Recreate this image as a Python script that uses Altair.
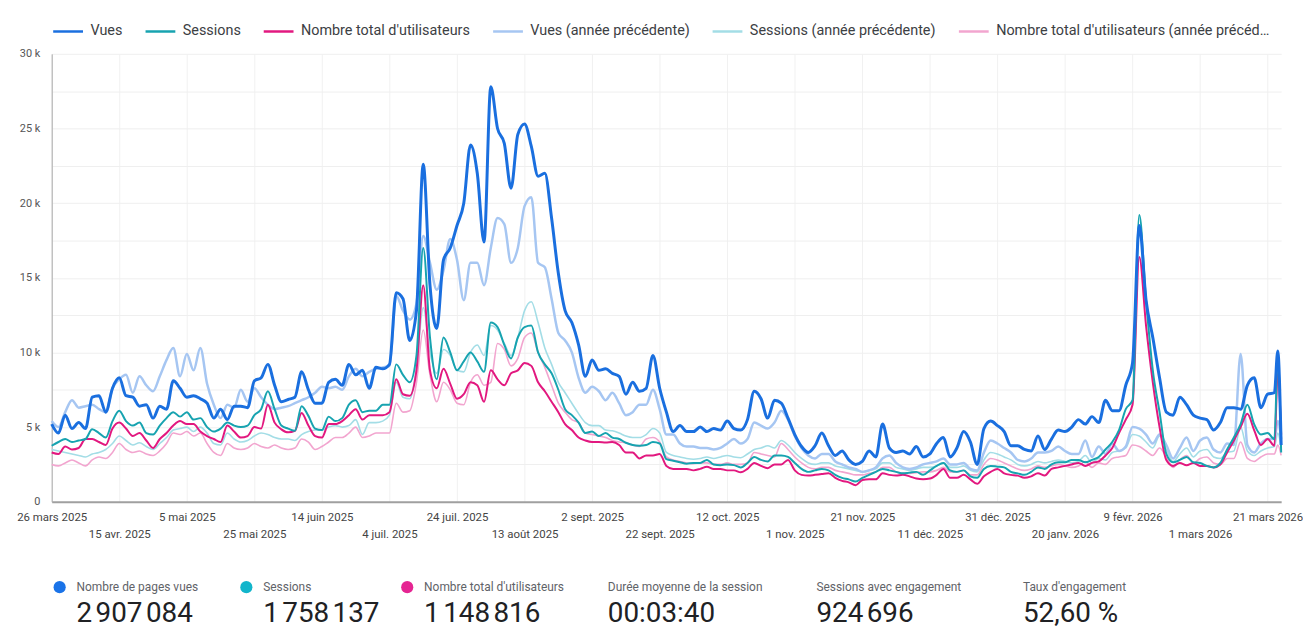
import json
import altair as alt
import pandas as pd

# ---------------- data (values in thousands) ----------------
# day index since 26 mars 2025 (every second day, plus the last two days)
DAYS = list(range(0, 363, 2)) + [363, 364]

VUES = [
    5.2, 4.6, 5.8, 4.9, 5.3, 4.9, 7.0, 7.1, 6.0, 7.6,
    8.3, 7.1, 7.0, 6.4, 6.5, 5.6, 6.4, 6.2, 8.1, 7.6,
    7.0, 7.1, 6.9, 6.6, 5.6, 6.2, 5.5, 6.4, 6.4, 6.3,
    8.1, 8.3, 9.2, 7.8, 6.7, 6.85, 7.0, 8.7, 7.5, 6.6,
    6.6, 8.0, 8.2, 7.8, 9.2, 8.5, 8.8, 7.6, 9.0, 8.9,
    9.2, 14.0, 13.6, 10.8, 12.8, 22.6, 14.5, 11.6, 16.2, 17.0,
    18.5, 20.0, 23.9, 22.0, 17.4, 27.8, 25.0, 24.0, 21.0, 24.6,
    25.3, 23.8, 21.8, 22.0, 19.0, 15.3, 12.8, 12.0, 10.5, 8.4,
    9.5, 8.8, 8.9, 8.6, 8.4, 7.2, 8.0, 7.4, 7.6, 9.8,
    7.6, 6.0, 4.7, 5.1, 4.7, 4.7, 5.0, 4.7, 4.9, 4.8,
    5.4, 4.9, 4.8, 5.5, 7.4, 6.9, 5.6, 6.8, 6.6, 5.6,
    4.5, 3.7, 3.3, 3.75, 4.6, 3.75, 3.1, 3.4, 2.8, 2.5,
    2.7, 3.4, 3.0, 5.2, 3.6, 3.3, 3.4, 3.2, 3.7, 3.0,
    3.2, 3.9, 4.3, 3.0, 3.6, 4.7, 4.0, 2.5, 4.9, 5.4,
    5.1, 4.7, 3.75, 3.75, 3.5, 3.4, 4.4, 3.5, 4.2, 4.8,
    4.7, 5.0, 5.5, 5.2, 5.7, 5.3, 6.8, 6.1, 6.1, 7.8,
    9.3, 18.5, 13.5, 11.0, 8.3, 6.0, 5.8, 7.0, 6.5, 5.8,
    5.6, 5.5, 4.8, 5.3, 6.3, 6.3, 6.2, 7.8, 8.3, 6.3,
    7.2, 7.3, 10.1, 3.8,
]

SESSIONS = [
    3.75, 4.0, 4.2, 4.0, 4.1, 4.2, 4.85, 4.6, 4.3, 5.4,
    6.1, 5.4, 5.1, 5.3, 4.6, 4.5, 5.1, 5.6, 6.0, 5.7,
    6.0, 5.5, 5.6, 5.0, 4.7, 4.9, 5.3, 5.1, 5.0, 5.1,
    5.8, 6.2, 7.4, 6.2, 5.1, 4.9, 4.75, 6.4, 5.75, 4.9,
    4.8, 5.7, 5.4, 5.6, 6.5, 6.8, 6.0, 6.1, 6.1, 6.5,
    6.5, 9.2, 8.5, 8.0, 9.8, 17.0, 11.0, 8.2, 11.0, 10.0,
    8.8, 9.4, 10.0, 9.4, 8.7, 12.0, 11.7, 10.5, 9.6, 11.0,
    11.7, 11.8, 10.0, 9.2, 8.6, 7.5, 6.2, 5.8, 5.3, 4.6,
    4.7, 4.4, 4.6, 4.3, 4.2, 3.95, 3.8, 3.75, 3.8, 4.0,
    3.9, 2.85, 2.75, 2.65, 2.55, 2.6, 2.6, 2.8, 2.5, 2.45,
    2.5, 2.45, 2.3, 2.6, 3.0, 2.8, 2.7, 3.1, 3.1, 3.0,
    2.6, 2.2, 2.0, 2.1, 2.2, 2.1, 1.8, 1.6, 1.5, 1.35,
    1.6, 1.8, 2.0, 2.2, 2.1, 2.0, 1.9, 1.95, 2.0, 1.8,
    2.1, 2.4, 2.6, 2.1, 2.0, 2.1, 1.7, 1.6, 2.2, 2.4,
    2.35, 2.3, 2.0, 1.9, 1.8, 2.0, 2.3, 2.2, 2.5, 2.64,
    2.64, 2.8, 2.8, 2.64, 2.8, 3.0, 3.5, 4.0, 4.8, 6.2,
    6.8, 19.2, 13.5, 8.8, 6.0, 3.2, 2.64, 2.8, 3.0, 2.64,
    2.6, 2.4, 2.3, 2.6, 3.5, 4.3, 5.2, 6.5, 5.2, 4.5,
    4.6, 4.2, 9.8, 3.3,
]

USERS = [
    3.3, 3.2, 3.7, 3.5, 3.6, 4.2, 4.2, 4.0, 3.8, 4.9,
    5.3, 4.9, 4.4, 4.6, 4.1, 3.6, 4.2, 4.6, 5.1, 5.4,
    5.2, 5.2, 4.7, 4.4, 4.2, 4.0, 5.1, 4.7, 4.3, 4.4,
    5.0, 4.9, 6.5, 5.3, 4.85, 4.65, 4.75, 5.95, 5.1, 4.4,
    4.3, 5.2, 5.2, 5.4, 5.8, 6.2, 5.5, 5.8, 5.8, 5.8,
    6.0, 8.2, 7.2, 7.1, 8.8, 14.5, 8.8, 7.6, 8.9, 7.9,
    6.9, 7.2, 8.0, 7.8, 6.7, 8.8, 8.2, 7.8, 8.6, 8.8,
    9.3, 9.1, 8.0, 7.4, 6.7, 6.0, 5.2, 4.8, 4.3, 4.1,
    4.0, 4.0, 3.97, 4.0, 3.8, 3.3, 3.3, 2.9, 3.1, 3.1,
    3.2, 2.4, 2.2, 2.2, 2.2, 2.1, 2.2, 2.35, 2.2, 2.2,
    2.1, 2.1, 1.97, 2.2, 2.6, 2.4, 2.25, 2.5, 2.5, 2.8,
    2.1, 1.8, 1.75, 1.8, 1.85, 1.9, 1.6, 1.4, 1.3, 1.1,
    1.45, 1.5, 1.5, 1.9, 1.8, 1.75, 1.8, 1.7, 1.55, 1.5,
    1.55, 1.8, 2.2, 1.6, 1.6, 1.8, 1.5, 1.2, 1.7, 2.0,
    2.2, 1.9, 1.8, 1.75, 1.6, 1.7, 1.9, 1.75, 2.2, 2.3,
    2.4, 2.5, 2.6, 2.4, 2.6, 2.7, 3.1, 3.6, 4.6, 5.5,
    6.5, 16.4, 11.8, 8.0, 5.0, 2.8, 2.4, 2.6, 2.45, 2.6,
    2.4, 2.4, 2.3, 2.5, 3.3, 4.1, 5.0, 5.9, 4.8, 3.8,
    4.2, 3.75, 8.6, 4.5,
]

VUES_PREV = [
    5.4, 5.0, 6.0, 6.8, 6.3, 6.4, 6.5, 6.2, 6.0, 7.6,
    8.2, 8.5, 7.3, 8.4, 7.8, 7.4, 8.4, 9.5, 10.3, 8.4,
    9.9, 8.8, 10.3, 7.9, 6.5, 5.6, 6.5, 6.3, 7.5, 6.7,
    7.6, 7.0, 6.5, 6.2, 6.3, 6.4, 6.6, 6.8, 7.0, 7.3,
    7.7, 7.6, 7.7, 7.5, 8.4, 8.9, 8.4, 8.7, 8.9, 9.0,
    9.1, 13.8, 12.8, 12.2, 13.3, 17.8, 16.0, 14.2, 15.5, 17.6,
    16.2, 13.5, 16.0, 16.0, 14.5, 17.0, 19.0, 18.6, 16.0, 17.0,
    19.8, 20.4, 16.0, 15.7, 13.6, 11.3, 10.8, 10.0, 8.3, 7.3,
    7.7, 7.4, 6.8, 7.3, 6.6, 5.8, 6.0, 6.5, 6.5, 7.5,
    6.2, 4.5, 4.5, 3.9, 3.7, 3.7, 3.6, 3.6, 3.5, 3.6,
    3.9, 4.2, 3.9, 4.2, 5.3, 5.1, 4.9, 5.3, 6.1, 5.5,
    4.4, 3.6, 3.1, 2.9, 3.2, 3.2, 2.7, 2.5, 2.3, 2.2,
    2.0, 2.1, 2.3, 2.9, 3.1, 2.6, 2.3, 2.2, 2.3, 2.5,
    2.6, 2.7, 2.9, 2.5, 2.5, 2.6, 2.2, 2.1, 3.3, 4.1,
    3.9, 3.6, 3.3, 2.8, 2.7, 2.9, 3.3, 3.3, 3.4, 3.7,
    3.4, 3.2, 3.2, 4.1, 3.0, 3.7, 3.2, 3.9, 3.4, 3.7,
    5.0, 4.9, 4.5, 3.9, 4.5, 3.8, 2.9, 3.6, 4.3, 3.4,
    4.1, 4.3, 3.5, 3.3, 3.9, 3.8, 9.9, 3.8, 3.3, 3.9,
    4.2, 4.2, 5.4, 4.2,
]

SESSIONS_PREV = [
    3.5, 3.4, 3.3, 3.2, 3.1, 3.0, 3.2, 3.3, 3.5, 3.9,
    4.4, 4.1, 3.8, 3.95, 3.7, 3.5, 3.9, 4.3, 4.8, 4.9,
    5.0, 4.7, 5.0, 4.6, 3.9, 3.8, 4.6, 4.2, 4.0, 4.1,
    4.4, 4.6, 4.5, 4.3, 4.2, 4.2, 4.1, 4.5, 4.7, 4.8,
    4.8, 5.0, 5.1, 5.0, 5.1, 5.5, 4.5, 5.3, 5.3, 5.4,
    5.8, 8.0, 7.0, 6.9, 9.0, 13.0, 10.0, 8.6, 10.2, 9.8,
    8.8, 8.7, 10.0, 10.5, 9.8, 11.8, 11.5, 10.6, 9.8, 11.0,
    12.8, 13.4, 12.0, 10.3, 9.2, 8.0, 7.3, 6.6, 5.9, 5.3,
    5.1, 5.1, 4.8, 4.75, 4.6, 4.4, 4.3, 4.3, 4.5, 4.9,
    4.6, 3.3, 3.1, 3.0, 2.9, 2.85, 2.9, 3.0, 2.9, 3.0,
    3.1, 3.0, 2.95, 3.2, 3.5, 3.6, 3.75, 3.6, 4.1, 3.8,
    3.3, 2.9, 2.6, 2.5, 2.6, 2.6, 2.4, 2.3, 2.2, 2.1,
    2.0, 2.1, 2.2, 2.6, 2.6, 2.3, 2.2, 2.1, 2.2, 2.3,
    2.3, 2.4, 2.6, 2.3, 2.3, 2.4, 2.1, 2.0, 2.8, 3.3,
    3.2, 3.0, 2.8, 2.5, 2.4, 2.5, 2.7, 2.6, 2.7, 2.8,
    2.7, 2.6, 2.7, 3.1, 2.6, 2.9, 2.8, 3.3, 3.4, 3.6,
    4.5, 4.4, 4.0, 3.6, 4.4, 3.5, 2.7, 3.2, 3.6, 3.0,
    3.4, 3.5, 3.0, 2.9, 3.3, 3.4, 5.0, 3.4, 3.1, 3.4,
    3.6, 3.7, 4.6, 3.6,
]

USERS_PREV = [
    2.5, 2.4, 2.6, 2.8, 2.6, 2.4, 2.8, 3.0, 2.9, 3.3,
    3.9, 3.5, 3.3, 3.4, 3.2, 3.1, 3.4, 3.9, 4.6, 4.5,
    4.7, 4.4, 4.6, 3.9, 3.3, 3.1, 3.9, 3.6, 3.5, 3.6,
    3.9, 3.7, 3.6, 3.8, 3.6, 3.5, 3.6, 4.2, 4.0, 3.5,
    3.7, 4.0, 4.3, 4.3, 4.6, 5.0, 4.3, 4.4, 4.6, 4.6,
    4.6, 6.6, 6.0, 6.1, 8.0, 11.5, 8.5, 6.7, 8.0, 7.5,
    6.6, 6.5, 8.0, 8.5, 7.8, 8.0, 10.6, 10.2, 9.1, 9.6,
    11.0, 11.3, 10.0, 9.0, 7.8, 6.6, 6.0, 5.5, 5.3, 4.6,
    4.5, 4.4, 4.3, 4.1, 4.0, 3.95, 3.8, 3.7, 4.2, 4.3,
    4.0, 3.0, 2.8, 2.7, 2.6, 2.55, 2.6, 2.6, 2.5, 2.5,
    2.6, 2.5, 2.5, 2.6, 3.3, 3.2, 3.1, 3.0, 3.9, 3.5,
    3.0, 2.6, 2.3, 2.2, 2.3, 2.3, 2.1, 2.0, 1.9, 1.8,
    1.8, 1.9, 2.0, 2.3, 2.3, 2.0, 1.9, 1.9, 1.95, 2.0,
    2.0, 2.1, 2.3, 2.0, 2.0, 2.1, 1.8, 1.8, 2.5, 2.9,
    2.8, 2.6, 2.4, 2.2, 2.1, 2.2, 2.4, 2.3, 2.4, 2.5,
    2.4, 2.3, 2.4, 2.7, 2.3, 2.6, 2.5, 2.9, 3.0, 3.1,
    3.8, 3.7, 3.4, 3.1, 3.6, 3.0, 2.3, 2.8, 3.1, 2.6,
    2.9, 3.0, 2.6, 2.5, 2.9, 2.9, 4.0, 2.9, 2.7, 3.0,
    3.2, 3.2, 3.8, 3.1,
]

SERIES = [
    "Vues",
    "Sessions",
    "Nombre total d'utilisateurs",
    "Vues (année précédente)",
    "Sessions (année précédente)",
    "Nombre total d'utilisateurs (année précédente)",
]
SERIES_VALUES = [VUES, SESSIONS, USERS, VUES_PREV, SESSIONS_PREV, USERS_PREV]

TICK_DAYS = list(range(0, 361, 20))
TICK_LABELS = [
    "26 mars 2025", "15 avr. 2025", "5 mai 2025", "25 mai 2025", "14 juin 2025",
    "4 juil. 2025", "24 juil. 2025", "13 août 2025", "2 sept. 2025", "22 sept. 2025",
    "12 oct. 2025", "1 nov. 2025", "21 nov. 2025", "11 déc. 2025", "31 déc. 2025",
    "20 janv. 2026", "9 févr. 2026", "1 mars 2026", "21 mars 2026",
]
Y_TICKS = [0, 2.5, 5, 7.5, 10, 12.5, 15, 17.5, 20, 22.5, 25, 27.5, 30]

CARD_LABELS = [
    "Nombre de pages vues", "Sessions", "Nombre total d'utilisateurs",
    "Durée moyenne de la session", "Sessions avec engagement", "Taux d'engagement",
]
CARD_VALUES = [
    "2\u202f907\u202f084", "1\u202f758\u202f137", "1\u202f148\u202f816",
    "00:03:40", "924\u202f696", "52,60\u00a0%",
]

# ---------------- styles / layout ----------------
COLORS = ["#1a6fdf", "#17a3b0", "#e2187f", "#a6c6f2", "#a3dde6", "#f2a5cf"]
WIDTHS = [3, 2, 2, 2.5, 1.6, 1.6]
DRAW_ORDER = [5, 4, 3, 2, 1, 0]
DOT_COLORS = ["#1a73e8", "#12b5cb", "#e52592"]
CARD_X = [25, 213, 375, 560, 770, 978]  # layout offsets of the score cards
FONT = "Roboto"

frames = []
for name, vals in zip(SERIES, SERIES_VALUES):
    frames.append(pd.DataFrame({"day": DAYS, "value": vals, "series": name}))
df = pd.concat(frames, ignore_index=True)

L = json.dumps(TICK_LABELS, ensure_ascii=False)
IDX = "round(datum.value / 20)"
x_label_expr = "(" + IDX + " % 2 === 1) ? ['', " + L + "[" + IDX + "]] : " + L + "[" + IDX + "]"
y_label_expr = "datum.value % 5 === 0 ? (datum.value === 0 ? '0' : datum.value + ' k') : ''"

x_enc = alt.X(
    "day:Q",
    scale=alt.Scale(domain=[0, 364], nice=False, zero=False),
    axis=alt.Axis(
        values=TICK_DAYS, labelExpr=x_label_expr, title=None, ticks=False,
        labelOverlap=False, labelFlush=False, labelAngle=0,
        labelFont=FONT, labelFontSize=11.5, labelColor="#444444",
        labelLineHeight=17, labelPadding=10, labelBaseline="top",
        domainColor="#a0a0a0", domainWidth=2,
        gridColor="#f1f1f1", gridWidth=1,
    ),
)

y_enc = alt.Y(
    "value:Q",
    scale=alt.Scale(domain=[0, 30], nice=False),
    axis=alt.Axis(
        values=Y_TICKS, labelExpr=y_label_expr, title=None, ticks=False,
        labelFont=FONT, labelFontSize=11, labelColor="#555555", labelPadding=12,
        domainColor="#a8a8a8", domainWidth=1,
        gridColor="#efefef", gridWidth=1,
    ),
)

color_enc = alt.Color(
    "series:N",
    scale=alt.Scale(domain=SERIES, range=COLORS),
    legend=alt.Legend(
        orient="none", legendX=0, legendY=-39, direction="horizontal",
        title=None, symbolType="stroke", symbolSize=900, symbolStrokeWidth=2.5,
        labelFont=FONT, labelFontSize=14.5, labelColor="#3c4043",
        labelLimit=279, labelOffset=6, columnPadding=17,
    ),
)

layers = []
for i in DRAW_ORDER:
    layers.append(
        alt.Chart(df)
        .transform_filter(alt.datum.series == SERIES[i])
        .mark_line(strokeWidth=WIDTHS[i], interpolate="monotone")
        .encode(x=x_enc, y=y_enc, color=color_enc)
    )

main = alt.layer(*layers).properties(width=1238, height=451)

cards_df = pd.DataFrame({"label": CARD_LABELS, "value": CARD_VALUES, "cx": CARD_X})
dots_df = pd.DataFrame({"dx": [c - 17 for c in CARD_X[:3]], "dot": DOT_COLORS})

card_labels = alt.Chart(cards_df).mark_text(
    align="left", baseline="middle", font=FONT, fontSize=12, color="#5f6368"
).encode(x=alt.X("cx:Q", scale=None, axis=None), y=alt.value(19), text="label:N")

card_values = alt.Chart(cards_df).mark_text(
    align="left", baseline="middle", font=FONT, fontSize=28, color="#202124"
).encode(x=alt.X("cx:Q", scale=None, axis=None), y=alt.value(46), text="value:N")

card_dots = alt.Chart(dots_df).mark_circle(size=150, opacity=1).encode(
    x=alt.X("dx:Q", scale=None, axis=None), y=alt.value(19),
    color=alt.Color("dot:N", scale=None, legend=None),
)

cards = alt.layer(card_dots, card_labels, card_values).properties(width=1238, height=50)

chart = (
    alt.vconcat(main, cards, spacing=67, bounds="flush")
    .properties(padding={"left": 8, "top": 5, "right": 0, "bottom": 0})
    .configure(font=FONT)
    .configure_view(stroke="transparent", strokeWidth=0)
)

chart.save("out.html", embed_options={"renderer": "svg", "actions": False})
